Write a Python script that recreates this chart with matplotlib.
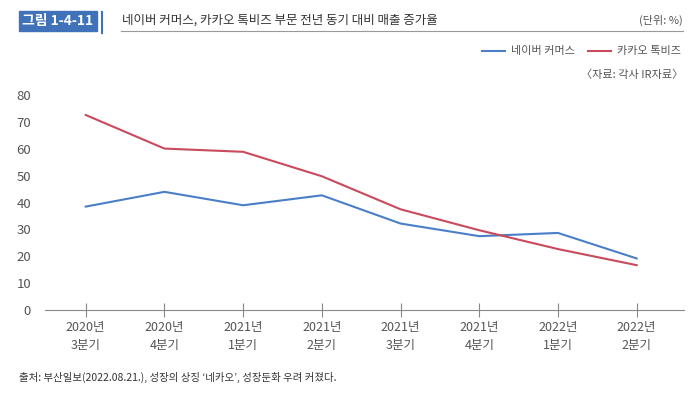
import matplotlib.pyplot as plt
from matplotlib.patches import Rectangle
from matplotlib.lines import Line2D

plt.rcParams['font.family'] = ['Noto Sans CJK KR', 'DejaVu Sans']

# 데이터
quarters = ["2020년\n3분기", "2020년\n4분기", "2021년\n1분기", "2021년\n2분기",
            "2021년\n3분기", "2021년\n4분기", "2022년\n1분기", "2022년\n2분기"]
naver = [38.5, 44, 39, 42.7, 32.2, 27.5, 28.7, 19.2]
kakao = [72.6, 60.1, 58.9, 49.8, 37.5, 29.7, 22.7, 16.7]
yticks = [0, 10, 20, 30, 40, 50, 60, 70, 80]

blue = "#4a7fc8"
red = "#c94a5c"
gray = "#555555"

fig = plt.figure(figsize=(7, 3.98), dpi=100)
ax = fig.add_axes([0.064, 0.221, 0.913, 0.540])

x = range(len(quarters))
ax.plot(x, naver, color=blue, lw=1.5)
ax.plot(x, kakao, color=red, lw=1.5)

ax.set_xlim(-0.52, 7.6)
ax.set_ylim(0, 80)
ax.set_yticks(yticks)
ax.set_xticks(list(x))
ax.set_xticklabels(quarters, fontsize=9, color=gray, linespacing=1.45)
ax.tick_params(axis='y', length=0, labelsize=9.5, labelcolor=gray, pad=10)
ax.tick_params(axis='x', direction='inout', length=10, color='#888888', pad=3)
for s in ['top', 'right', 'left']:
    ax.spines[s].set_visible(False)
ax.spines['bottom'].set_color('#888888')

# 헤더
fig.patches.append(Rectangle((19 / 700, 1 - 31 / 398), 78 / 700, 20 / 398,
                             transform=fig.transFigure, color="#3f72b8"))
fig.text(58 / 700, 1 - 21 / 398, "그림 1-4-11", color="white", fontsize=10,
         fontweight='bold', ha='center', va='center')
fig.add_artist(Line2D([102 / 700, 102 / 700], [1 - 12 / 398, 1 - 33 / 398],
                      color="#3f72b8", lw=1.5, transform=fig.transFigure))
fig.text(122 / 700, 1 - 20 / 398, "네이버 커머스, 카카오 톡비즈 부문 전년 동기 대비 매출 증가율",
         fontsize=9, color="#333333", va='center')
fig.text(683 / 700, 1 - 20 / 398, "(단위: %)", fontsize=8, color=gray,
         ha='right', va='center')
fig.add_artist(Line2D([121 / 700, 683 / 700], [1 - 31 / 398, 1 - 31 / 398],
                      color="#999999", lw=0.8, transform=fig.transFigure))

# 범례
fig.add_artist(Line2D([482 / 700, 505 / 700], [1 - 51 / 398, 1 - 51 / 398],
                      color=blue, lw=1.5, transform=fig.transFigure))
fig.text(511 / 700, 1 - 51 / 398, "네이버 커머스", fontsize=8, color=gray, va='center')
fig.add_artist(Line2D([588 / 700, 611 / 700], [1 - 51 / 398, 1 - 51 / 398],
                      color=red, lw=1.5, transform=fig.transFigure))
fig.text(617 / 700, 1 - 51 / 398, "카카오 톡비즈", fontsize=8, color=gray, va='center')
fig.text(683 / 700, 1 - 75 / 398, "〈자료: 각사 IR자료〉", fontsize=8, color=gray,
         ha='right', va='center')

# 출처
fig.text(19 / 700, 1 - 377 / 398,
         "출처: 부산일보(2022.08.21.), 성장의 상징 ‘네카오’, 성장둔화 우려 커졌다.",
         fontsize=7.5, color="#333333", va='center')

fig.savefig("out.png", dpi=100)
